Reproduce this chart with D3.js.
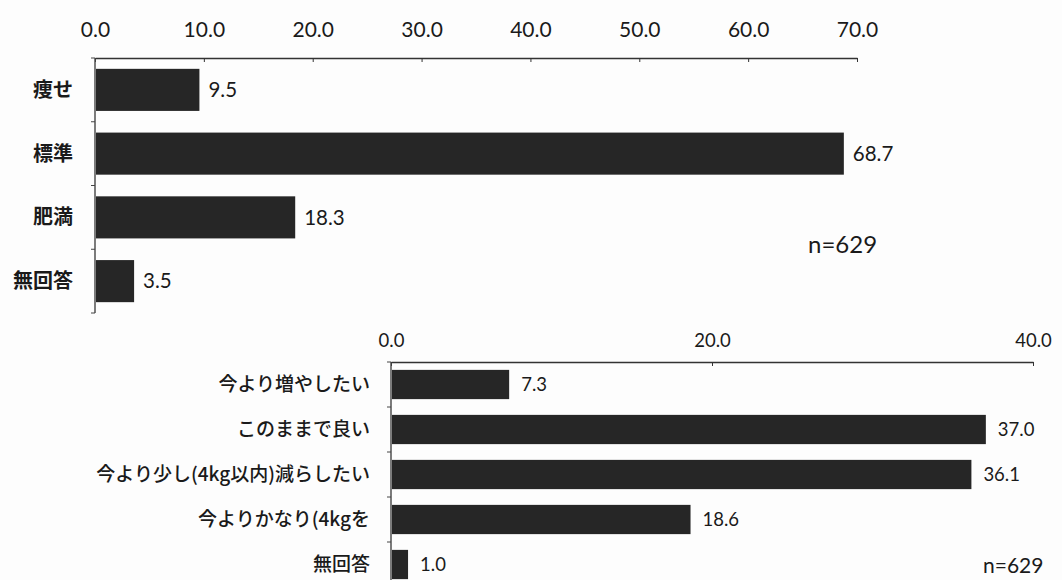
<!DOCTYPE html>
<html>
<head>
<meta charset="utf-8">
<script src="https://cdn.jsdelivr.net/npm/d3@7"></script>
<style>
  body { margin: 0; background: #fdfdfd; }
  svg { display: block; }
  text { fill: #1a1a1a; }
</style>
</head>
<body>
<div id="chart"></div>
<script>
// 体型 (BMI判定)
var bodyCats = ["痩せ", "標準", "肥満", "無回答"];
var bodyVals = [9.5, 68.7, 18.3, 3.5];
var bodyTicks = [0, 10, 20, 30, 40, 50, 60, 70];

// 体重の希望
var wishCats = ["今より増やしたい", "このままで良い", "今より少し(4kg以内)減らしたい", "今よりかなり(4kgを", "無回答"];
var wishVals = [7.3, 37.0, 36.1, 18.6, 1.0];
var wishTicks = [0, 20, 40];

var sampleNote = "n=629";

var width = 1062, height = 580;
var numFont = "Lato, 'Noto Sans', sans-serif";
var jpFont = "'Noto Sans CJK JP', sans-serif";

var svg = d3.select("#chart").append("svg")
  .attr("width", width)
  .attr("height", height);

function drawBars(opt) {
  var x = d3.scaleLinear().domain(opt.domain).range(opt.xRange);
  var y = d3.scaleBand()
    .domain(opt.cats)
    .range(opt.yRange)
    .paddingInner(opt.pad)
    .paddingOuter(opt.pad / 2);

  var g = svg.append("g");

  // top axis
  var xAxis = d3.axisTop(x)
    .tickValues(opt.ticks)
    .tickFormat(d3.format(".1f"))
    .tickSizeInner(-4)
    .tickSizeOuter(0)
    .tickPadding(opt.tickPad);

  var ax = g.append("g")
    .attr("transform", "translate(0," + opt.yRange[0] + ")")
    .call(xAxis);
  ax.select(".domain").attr("stroke", "#333").attr("stroke-width", 1.6);
  ax.selectAll(".tick line").attr("stroke", "#333");
  ax.selectAll(".tick text")
    .style("font-family", numFont)
    .style("font-size", opt.tickFs + "px")
    .attr("fill", "#1a1a1a");

  // left axis with ticks at band edges
  var x0 = x(0);
  g.append("line")
    .attr("x1", x0).attr("x2", x0)
    .attr("y1", opt.yRange[0]).attr("y2", opt.yRange[1])
    .attr("stroke", "#444").attr("stroke-width", 1.4);

  var edges = d3.range(opt.cats.length + 1).map(function(i){ return opt.yRange[0] + i * y.step(); });
  g.selectAll(".edge")
    .data(edges)
    .enter().append("line")
    .attr("x1", x0 - 4).attr("x2", x0)
    .attr("y1", function(d){ return d; })
    .attr("y2", function(d){ return d; })
    .attr("stroke", "#444");

  // bars
  g.selectAll(".bar")
    .data(opt.vals)
    .enter().append("rect")
    .attr("x", x0 + 1)
    .attr("y", function(d, i){ return y(opt.cats[i]); })
    .attr("width", function(d){ return x(d) - x0; })
    .attr("height", y.bandwidth())
    .attr("fill", "#262626");

  // value labels
  g.selectAll(".val")
    .data(opt.vals)
    .enter().append("text")
    .attr("x", function(d){ return x(d) + opt.valGap; })
    .attr("y", function(d, i){ return y(opt.cats[i]) + y.bandwidth() / 2; })
    .attr("dy", "0.35em")
    .style("font-family", numFont)
    .style("font-size", opt.valFs + "px")
    .text(function(d){ return d.toFixed(1); });

  // category labels
  g.selectAll(".cat")
    .data(opt.cats)
    .enter().append("text")
    .attr("x", opt.labelX)
    .attr("y", function(d){ return y(d) + y.bandwidth() / 2; })
    .attr("dy", "0.35em")
    .attr("text-anchor", "end")
    .style("font-family", jpFont)
    .style("font-size", opt.catFs + "px")
    .style("font-weight", opt.catWeight)
    .text(function(d){ return d; });

  // n note
  g.append("text")
    .attr("x", opt.noteX)
    .attr("y", opt.noteY)
    .attr("dy", "0.35em")
    .style("font-family", numFont)
    .style("font-size", opt.noteFs + "px")
    .text(sampleNote);
}

drawBars({
  cats: bodyCats, vals: bodyVals, ticks: bodyTicks,
  domain: [0, 70], xRange: [95, 857], yRange: [58, 313], pad: 0.34,
  tickFs: 21, tickPad: 21, valFs: 20.5, valGap: 10,
  labelX: 73, catFs: 20, catWeight: 700,
  noteX: 808, noteY: 245, noteFs: 24
});

drawBars({
  cats: wishCats, vals: wishVals, ticks: wishTicks,
  domain: [0, 40], xRange: [391, 1033], yRange: [362, 587], pad: 0.35,
  tickFs: 18.5, tickPad: 15, valFs: 18.5, valGap: 13,
  labelX: 370, catFs: 19, catWeight: 500,
  noteX: 983, noteY: 566, noteFs: 21
});
</script>
</body>
</html>
